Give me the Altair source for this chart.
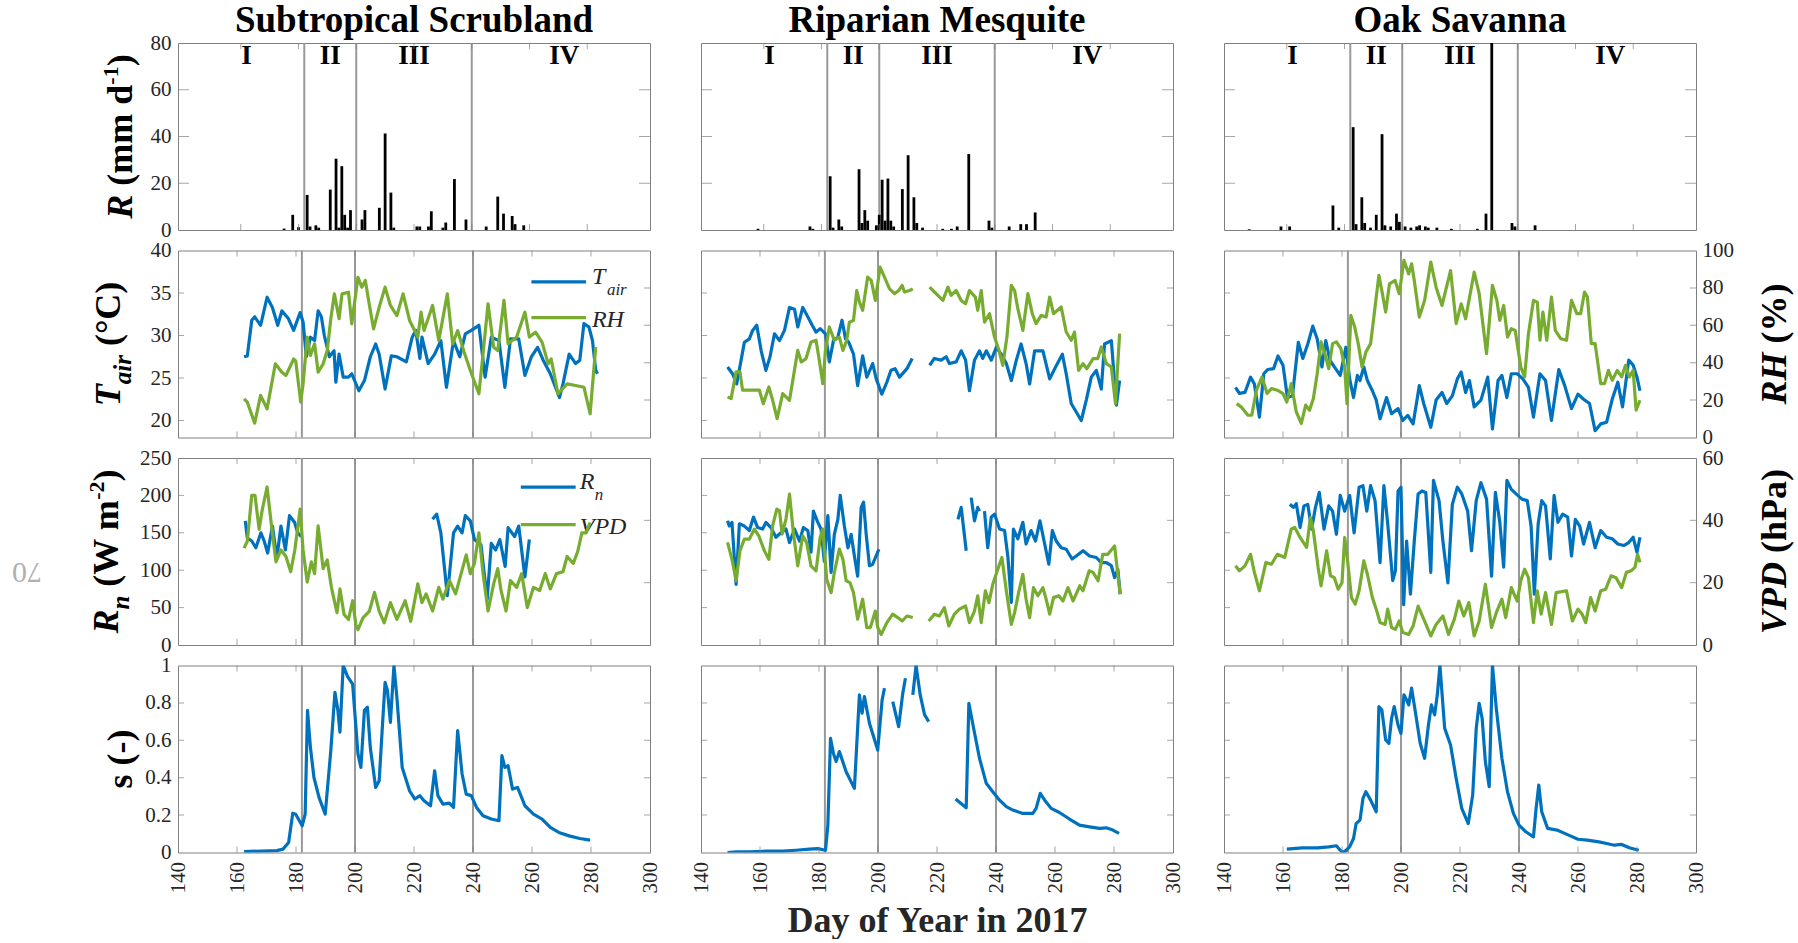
import altair as alt
import pandas as pd

FONT = "Liberation Serif"
BLUE = "#0072BD"
GREEN = "#77AC30"
FRAME = "#808080"
SEP = "#999999"
TXT = "#262626"
W, H = 472, 187

site_titles = ["Subtropical Scrubland", "Riparian Mesquite", "Oak Savanna"]
x_tick_values = [140, 160, 180, 200, 220, 240, 260, 280, 300]
period_bounds = [182, 200, 240]
period_labels = ["I", "II", "III", "IV"]
period_label_days = [162, 191, 220, 272]

rain_ticks = [0, 20, 40, 60, 80]
tair_ticks = [20, 25, 30, 35, 40]
rh_ticks = [0, 20, 40, 60, 80, 100]
rn_ticks = [0, 50, 100, 150, 200, 250]
vpd_ticks = [0, 20, 40, 60]
s_ticks = [0, 0.2, 0.4, 0.6, 0.8, 1]

# ---------------- Subtropical Scrubland ----------------
rain_ss_day = [175, 178, 180, 183, 184, 186, 187, 191, 193, 194, 195, 196, 197, 198, 202, 203, 208, 210, 212, 213,
               221, 222, 225, 226, 230, 231, 234, 238, 245, 249, 251, 254, 255, 258]
rain_ss = [0.6, 6.5, 1.2, 15, 1.5, 2, 1, 17.3, 30.5, 1, 27.3, 6.5, 1, 8.5, 4.5, 8.5, 9.5, 41.3, 16, 1,
           1.5, 1.5, 1.5, 8, 1, 3.2, 21.8, 4.5, 1.5, 14.3, 7, 6, 2.5, 2]

tair_ss_day = [162.4, 163.5, 165, 166, 168, 170.2, 172, 173.8, 175.2, 177.4, 179.2, 181.4, 182.4, 183.5, 184.9, 186.3,
               187.5, 188.6, 189.6, 191.3, 192.9, 193.5, 194.6, 196, 197.8, 198.9, 201.3, 203.2, 205.2, 207, 208.2,
               210.2, 212.3, 214.2, 217.4, 219.4, 220.6, 222, 222.7, 224.8, 227, 229.1, 231, 233.4, 235.5, 237.4,
               239.4, 242, 244.1, 246.2, 248.8, 250.8, 252.7, 255.5, 257.6, 259.8, 261.9, 263.8, 266.2, 269.3, 270.5,
               272.6, 274.8, 276.2, 277.6, 279.3, 280.5, 281.6, 282.2]
tair_ss = [27.5, 27.6, 31.8, 32.2, 31.2, 34.5, 33.3, 31.2, 32.9, 32, 30.6, 32.7, 31.6, 27.5, 29.8, 29.4, 32.9, 32.2,
           30, 27.5, 28.2, 24.5, 27.8, 25.1, 25.1, 25.5, 23.5, 24.7, 27.5, 29, 27.8, 23.7, 27.6, 27.5, 26.9, 29.8,
           30.6, 27.3, 29.8, 26.7, 27.8, 29.4, 23.9, 29.4, 27.5, 30.2, 30.6, 31.2, 25.1, 29.8, 29.4, 23.9, 29.6,
           29.6, 25.3, 27.5, 28.6, 27.1, 25.5, 22.7, 24.3, 27.8, 26.7, 27.1, 31.4, 31, 29.4, 25.9, 25.5]

rh_ss_day = [162.4, 163.5, 166, 168, 170.2, 173, 175.2, 176.6, 179.2, 179.9, 181.6, 182.4, 183.8, 184.9, 186.3, 187.5,
             189.2, 190.6, 191.8, 193, 194.6, 195.6, 197.8, 198.9, 201, 202.3, 203.5, 204.9, 206.3, 208.2, 210.2, 212,
             214.2, 216.3, 218.5, 221.3, 222.4, 223.4, 226.3, 228.4, 231.3, 233.1, 234.8, 237, 239.1, 242, 243.4,
             245.1, 247, 248.4, 250.5, 251.9, 254.8, 257.6, 259.1, 261.2, 263.4, 265.5, 266.5, 268.8, 271.9, 274.8,
             277.6, 279.7, 281.6]
rh_ss = [20.7, 18.9, 7.7, 22.5, 15.3, 39.4, 34.9, 33.2, 42, 41, 18.9, 28.7, 53.7, 43.9, 50.1, 34.9, 39.4, 46.5, 63.5,
         76.8, 63.5, 76.8, 77.7, 60.8, 85.7, 80.4, 84, 70.6, 58.1, 69.7, 80.4, 70.6, 65.2, 76.8, 62.6, 53.7, 67, 57.2,
         70.6, 51.9, 76.8, 50.1, 57.2, 45.6, 35.8, 23.4, 44.7, 71.5, 48.3, 46.5, 73.3, 50.1, 53.7, 67, 53.7, 56.3, 51,
         39.4, 42, 23.4, 28.7, 27.8, 26.9, 12.7, 48.3]

rn_ss_day = [162.8, 163.5, 165, 166.4, 168.1, 169.2, 170.4, 172, 173.5, 174.9, 176.4, 177.8, 179.5, 180.6, 181.8, 200,
             226.3, 227.7, 229.1, 231.3, 233.4, 234.8, 236.3, 237.4, 239.1, 240.5, 242.7, 244.8, 246.2, 247.7, 249.1,
             250.9, 251.9, 254.1, 255.5, 257.6, 259.1]
rn_ss = [166, 143, 139, 130, 150, 139, 123, 159, 116, 159, 127, 173, 164, 150, 145, None,
         168, 175, 150, 66, 150, 159, 150, 173, 166, 141, 134, 61, 136, 127, 141, 105, 157, 145, 159, 91, 141]

vpd_ss_day = [162.4, 163.5, 165, 166.1, 167.5, 168.5, 170.2, 171.7, 173.2, 174.9, 176.6, 178.2, 179.6, 181.4, 182.4,
              183.8, 185.2, 186.3, 187.5, 189.2, 190.6, 192, 193.9, 194.9, 196.3, 197.8, 199.2, 200.3, 201, 202.7,
              204.9, 206.6, 208.2, 209.9, 212, 214.2, 217, 218.9, 221.3, 222.7, 224.1, 226.3, 228.4, 229.8, 232,
              234.1, 236.3, 237.7, 239.1, 240.5, 242, 243.4, 245.1, 247, 248.4, 249.5, 251.2, 252.7, 254.8, 256.5,
              258.4, 260.5, 262.6, 264.5, 266.2, 268.3, 270.5, 271.9, 274, 275.5, 276.9, 278.3, 279.7]
vpd_ss = [31.1, 33.3, 48, 48, 37.1, 43.1, 50.7, 38.2, 26.7, 30.5, 28.4, 23.5, 30.5, 43.6, 30.5, 20.2, 26.7, 22.9, 38.2,
          24.5, 27.3, 18.5, 10.4, 18, 9.8, 8.2, 14.2, 6.5, 4.9, 8.7, 10.9, 16.9, 10.9, 7.1, 13.6, 8.2, 14.2, 7.6, 19.6,
          13.6, 16.4, 10.9, 18.5, 14.7, 20.7, 16.4, 24, 28.9, 22.9, 26.2, 36, 22.9, 10.9, 19.6, 24.5, 17.5, 10.9, 20.7,
          18.5, 22.9, 12, 18.5, 17.5, 22.9, 18, 22.9, 23.5, 28.4, 26.2, 30, 36, 36, 39.3]

s_ss_day = [162.4, 173.5, 175.6, 177.5, 178.9, 179.9, 182.1, 183.1, 183.9, 184.9, 186.1, 187.8, 189.9, 191.8, 193.2,
            194.2, 194.9, 196, 197.5, 199.2, 201, 202, 203.2, 204.2, 205.2, 207, 208.2, 209.2, 210.2, 211, 212, 213.2,
            214.2, 216, 218.5, 220.3, 222, 223.4, 225.6, 227, 228.1, 229.8, 232, 233.4, 234.8, 236.3, 237.7, 239.4,
            241.2, 243.4, 246.2, 248.8, 249.8, 250.8, 251.9, 253.4, 255.1, 257.6, 260.5, 263.4, 266.2, 269.1, 272.6,
            276.2, 279.7]
s_ss = [0.005, 0.01, 0.018, 0.054, 0.21, 0.205, 0.143, 0.205, 0.76, 0.56, 0.40, 0.295, 0.205, 0.545, 0.857, 0.76,
        0.643, 1.0, 0.94, 0.90, 0.527, 0.455, 0.76, 0.777, 0.56, 0.348, 0.384, 0.652, 0.91, 0.866, 0.696, 1.0, 0.83,
        0.455, 0.33, 0.286, 0.304, 0.277, 0.25, 0.437, 0.304, 0.259, 0.264, 0.241, 0.652, 0.42, 0.312, 0.304, 0.241,
        0.196, 0.179, 0.17, 0.518, 0.455, 0.464, 0.339, 0.348, 0.25, 0.205, 0.179, 0.134, 0.107, 0.089, 0.075, 0.066]

# ---------------- Riparian Mesquite ----------------
rain_rm_day = [158, 176, 177, 183, 184, 186, 187, 193, 194, 195, 196, 199, 200, 201, 202, 203, 204, 205, 208, 210,
               212, 213, 215, 222, 225, 227, 231, 238, 239, 245, 249, 251, 254]
rain_rm = [0.5, 1.5, 0.5, 23, 1, 4.5, 1.5, 26, 3, 8.5, 4, 2, 6.5, 21.5, 4, 22, 4, 1.5, 17.5, 32,
           14, 3, 1, 0.5, 0.5, 1.5, 32.5, 4, 1, 1.5, 2.5, 2.5, 7.5]

tair_rm_day = [149, 150.7, 152.1, 153.6, 154.7, 156.4, 157.5, 158.9, 160.4, 162, 163.4, 164.9, 166.6, 168.3, 170,
               171.7, 172.8, 174.5, 176.2, 177.7, 179, 180.4, 182.2, 183.5, 184.9, 186.4, 187.8, 189, 190.1, 191.7,
               193.1, 194.8, 196.2, 198.2, 199.4, 201.3, 203, 204.4, 205.8, 207.3, 209.8, 211.6, 214,
               217.5, 219.1, 221.4, 223.1, 224.2, 226.5, 228.2, 229.7, 231, 232.7, 234.4, 235.5, 236.7, 238.4, 240.1,
               241.8, 243.5, 245.2, 246.9, 248.5, 250.2, 251.4, 253.1, 255.9, 258.2, 260.2, 262.5, 263.8, 265.5,
               267.2, 268.9, 270.6, 272.3, 274, 275.7, 276.8, 279.1, 280.8, 281.9]
tair_rm = [26.3, 25.5, 24.3, 27.1, 29.2, 29.6, 30.6, 31.2, 28.2, 25.9, 27.5, 30.2, 29.4, 30.6, 33.3, 33.1, 31, 33.3,
           32.2, 31.2, 30.4, 30.8, 30.2, 26.9, 29.4, 29.8, 31.8, 29.6, 29.2, 27.8, 24.1, 27.6, 25.1, 26.7, 24.9, 23.1,
           24.5, 25.9, 26.1, 25.1, 26.1, 27.3, None,
           26.5, 27.3, 27.1, 27.5, 26.7, 26.9, 28.2, 27.1, 23.5, 27.1, 28.2, 27.3, 28.2, 27.1, 28.6, 27.8, 26.7, 24.7,
           27.1, 29, 26.7, 24.3, 28.2, 28.2, 24.9, 26.3, 27.8, 25.5, 22, 21, 20, 22.4, 25.1, 25.9, 23.7, 29, 29.4,
           21.8, 24.7]

rh_rm_day = [149, 150.2, 151.9, 153.2, 154.1, 156.4, 159.8, 161.1, 163, 164.3, 165.8, 167.7, 170, 172.8, 174, 175.6,
             177.3, 179, 180.1, 181.3, 182.2, 183.5, 185.2, 186.9, 188.1, 189.4, 190.3, 191.7, 192.8, 193.7, 194.8,
             196.5, 197.7, 199.1, 200.7, 202.2, 203.9, 205.6, 207, 208.2, 209, 210.7, 211.8, 214,
             217.5, 219.7, 222, 223.7, 224.8, 226.5, 228.2, 229.7, 231, 233, 233.8, 235, 236.1, 237.8, 239.5, 241,
             242.3, 243.7, 245.2, 246.3, 247.4, 249.1, 250.8, 252.3, 253.6, 255.3, 257, 258.2, 259.5, 262.1, 263.8,
             265.5, 266.6, 268, 269.5, 270.8, 272.9, 274.5, 275.7, 277.4, 279.1, 280.5, 281.9]
rh_rm = [21.7, 20.8, 35.1, 35.1, 25.3, 25.3, 25.3, 18.1, 27, 19.9, 10.1, 23.5, 19.9, 46.6, 40.4, 42.2, 51.1, 52, 41.3,
         28.8, 46.6, 59.1, 52, 53.7, 46.6, 52, 61.7, 62.6, 78.6, 72.4, 68, 85.8, 84, 73.3, 91.1, 85.8, 79.5, 76.9,
         78.6, 81.3, 77.8, 78.6, 79.5, None,
         80.4, 76.9, 73.3, 80.4, 76, 78.6, 73.3, 71.5, 78.6, 75.1, 68, 78.6, 61.7, 66.2, 53.7, 46.6, 38.6, 53.7, 81.3,
         78.6, 68.9, 57.3, 76.9, 66.2, 60.9, 65.3, 64.4, 75.1, 66.2, 69.8, 56.4, 52, 56.4, 35.9, 39.5, 36.8, 42.2,
         42.2, 48.4, 39.5, 37.7, 18.1, 55.5]

rn_rm_day = [149, 149.6, 150.5, 151.9, 153, 154.7, 156.4, 157.8, 159.2, 160.9, 162, 163.7, 165.4, 167.1, 168.8, 170,
             171.7, 173.4, 174.7, 176.2, 177.3, 178.1, 179.6, 180.7, 181.8, 183, 184.1, 185.2, 186.4, 187.2, 188.6,
             189.8, 190.9, 192, 193.1, 194.3, 195.1, 196, 197.1, 198.2, 200.3, 214,
             227.1, 228.2, 229.9, 230.8, 231.6, 232.7, 233.8, 234.4, 235.3,
             236.1, 237.2, 238.4, 239.5, 241.2, 242.9, 244, 245.2, 245.9, 247.4, 249.1, 250.2, 251.9, 253.4, 254.9,
             256.5, 257.9, 259.1, 260.4, 262.1, 263.8, 265.8, 267.2, 269.5, 271.7, 274, 275.7, 277.4, 279.1, 280.2,
             281.3, 282.1]
rn_rm = [166, 159, 164, 81, 162, 159, 153, 171, 157, 155, 164, 157, 144, 150, 155, 137, 155, 139, 157, 153, 124, 179,
         164, 155, 112, 173, 97, 148, 168, 200, 159, 130, 148, 119, 92, 184, 191, 148, 106, 108, 128, None,
         168, 184, 126, None, 197, 166, 184, 179, None,
         179, 130, 171, 175, 155, 153, 119, 57, 155, 142, 164, 135, 153, 139, 166, 135, 108, 153, 139, 130, 128, 115,
         119, 126, 119, 117, 110, 110, 106, 90, 101, 68]

vpd_rm_day = [149, 150.5, 151.9, 153.2, 154.7, 156.4, 158.1, 159.6, 161.5, 163, 164.3, 165.7, 166.6, 167.5, 168.8,
              170, 171.3, 172.8, 174.5, 175.8, 177.3, 179, 180.4, 181.3, 182.6, 184.1, 185.2, 186.9, 188.1, 189.2,
              190.5, 191.7, 193.1, 194.8, 196.2, 197.4, 199.1, 199.9, 201.1, 203, 205, 206.7, 208.2, 209.8, 211.8, 214,
              217.2, 219.1, 220.8, 222.5, 224, 225.9, 227.6, 229.7, 231, 232.7, 233.8, 235, 236.4, 237.6, 238.9, 240.6,
              242, 243.5, 245.2, 246.3, 247.8, 249.1, 250.2, 251.4, 252.7, 254.2, 255.9, 257, 258.2, 259.5, 261.3,
              262.7, 264.4, 266.1, 268.4, 269.5, 271.6, 272.9, 274.6, 276.2, 277.9, 280.2, 281.3, 282.1]
vpd_rm = [32.9, 27.5, 20.6, 30.2, 34, 34, 37.2, 35, 30.2, 27.5, 38.3, 43.6, 43.1, 35.6, 40.4, 48.4, 36.1, 25.4, 35,
          32.9, 25.4, 23.8, 34.5, 37.2, 21.1, 16.8, 23.3, 30.8, 27.5, 20.6, 20, 16.8, 8.3, 14.7, 5.6, 5.6, 10.9, 5.6,
          3.4, 7.2, 9.9, 8.8, 7.7, 9.3, 8.8, None,
          7.7, 9.9, 9.3, 12, 6.1, 9.9, 11.5, 12.5, 7.2, 10.9, 15.8, 7.2, 17.4, 13.6, 19.5, 24.3, 28.1, 17.4, 6.6, 10.4,
          17.4, 22.7, 14.7, 8.8, 18.4, 15.8, 18.4, 14.7, 9.9, 15.2, 15.8, 14.1, 18.4, 14.1, 19, 17.4, 23.8, 23.3, 20.6,
          29.1, 29.1, 31.8, 22.7, 16.3]

s_rm_day = [149, 151.9, 156.4, 162, 167.7, 172.2, 176.7, 179.6, 182.2, 183, 183.9, 184.9, 185.8, 186.9, 189.2, 192,
            193.7, 194.6, 195.4, 197.1, 199.9, 201.4, 202.2, 203.5, 205, 207, 208.4, 209.3, 210.5,
            211.8, 212.9, 214.3, 215.8, 217.2, 222,
            226.3, 229.9, 230.8, 232.2, 234.4, 236.7, 238.9, 241.2, 243.5, 245.7, 249.1, 252.5, 253.6, 255, 256.5,
            258.7, 261.5, 264.9, 268.3, 271.7, 275.1, 277.4, 279.6, 281.7]
s_rm = [0, 0.004, 0.004, 0.007, 0.007, 0.012, 0.018, 0.021, 0.012, 0.146, 0.61, 0.53, 0.486, 0.54, 0.432, 0.343,
        0.843, 0.745, 0.834, 0.691, 0.548, 0.816, 0.879, None, 0.807, 0.673, 0.852, 0.932, None,
        0.843, 1.0, 0.843, 0.736, 0.7, None,
        0.286, 0.239, 0.798, 0.682, 0.504, 0.37, 0.325, 0.28, 0.245, 0.227, 0.209, 0.209, 0.236, 0.316, 0.28, 0.236,
        0.214, 0.179, 0.146, 0.137, 0.129, 0.132, 0.12, 0.102]

# ---------------- Oak Savanna ----------------
rain_os_day = [147, 158, 161, 176, 178, 183, 184, 186, 187, 189, 191, 193, 194, 196, 198, 199, 201, 203, 205, 206, 208,
               209, 212, 217, 226, 229, 231, 238, 239, 246]
rain_os = [0.3, 1.5, 1.5, 10.5, 1, 44, 2.5, 14, 3, 1, 6.5, 41, 2, 1.5, 7, 3.5, 1.5, 1, 1.5, 2, 1.5,
           1, 1, 0.5, 0.5, 7, 80, 3, 1.5, 2]

tair_os_day = [143.9, 145.2, 147.1, 149, 150.3, 152, 153.5, 154.8, 156.8, 158.3, 160, 161.5, 163.2, 165.2, 166.7,
               168.4, 170.1, 171.6, 173.2, 174.5, 175.9, 177.4, 179.4, 181.3, 182.6, 183.9, 185.2, 186.1, 187.4, 188.6,
               190.3, 191.6, 192.9, 195.1, 196.8, 199, 200.6, 202.3, 204.1, 206.2, 207.7, 210.1, 211.9, 213.9, 215.5,
               217.4, 219.1, 220.4, 221.9, 223.2, 224.8, 227.1, 229.4, 231, 232.9, 234.2, 235.9, 237.4, 239.4, 241.3,
               243.2, 244.9, 247.1, 249, 251, 253.5, 255.5, 257.8, 260, 261.9, 263.9, 265.8, 267.7, 269.7, 271.6,
               273.5, 275.1, 277.2, 278.7, 280, 281]
tair_os = [23.9, 23.2, 23.3, 25.1, 24.3, 20.4, 25.5, 26, 26.1, 27.6, 26.5, 22.7, 22.9, 29.2, 27.3, 29, 31.1, 29.6, 26.3,
           29.4, 27.1, 26.3, 25.3, 28.6, 24.9, 22.7, 25.3, 24.7, 26.3, 24.7, 23.5, 22.4, 20.2, 22.7, 20.8, 21.4, 20,
           20.6, 19.6, 24.1, 22, 19.2, 22.4, 23.3, 22, 22.9, 24.9, 25.7, 23.3, 24.7, 21.6, 22.4, 25.1, 19, 24.7, 25.3,
           22.7, 25.5, 25.5, 24.9, 23.9, 20.4, 25.5, 24.7, 20, 26, 24.1, 21.4, 23.1, 22.5, 22, 18.8, 19.6, 19.8, 22.5,
           24.5, 21.6, 27.1, 26.5, 25.1, 23.5]

rh_os_day = [144.3, 145.8, 148.1, 149.4, 151, 152.9, 154.6, 156.1, 158.1, 160, 161.3, 162.8, 164.5, 166.2, 167.7, 169,
             170.3, 171.6, 172.9, 174.2, 175.5, 176.8, 178.1, 179.6, 180.9, 181.7, 183, 184.3, 185.5, 186.8, 188.1,
             189.7, 191, 192.5, 193.5, 194.8, 196.1, 198, 199.4, 201, 202.6, 203.6, 204.5, 206.2, 208, 210.1, 211.9,
             213.9, 216.8, 218.7, 220.4, 221.9, 224.8, 226.5, 229, 231, 232.5, 233.5, 234.8, 236.1, 237.4, 238.7,
             240.6, 241.9, 243.2, 244.9, 246.2, 247.1, 248.1, 249.4, 251, 252.3, 254.2, 256.1, 257.8, 259.6, 260.9,
             262.2, 263.2, 264.5, 265.8, 267.7, 269, 270.3, 271.6, 273.3, 274.8, 276.1, 277.4, 278.7, 279.7, 281]
rh_os = [18.1, 16.4, 11.9, 11.9, 25.3, 32.4, 23.5, 26.2, 25.3, 23.5, 19, 28.8, 13.7, 7.5, 17.3, 14.6, 20.8, 34.2, 51.1,
         44.8, 36.8, 50.2, 51.1, 47.5, 37.7, 18.1, 65.3, 59.1, 50.2, 37.7, 45.7, 50.2, 67.1, 86.7, 78.6, 67.1, 82.2, 84,
         76.9, 94.7, 87.5, 92.9, 84, 64.4, 73.3, 93.8, 80.4, 70.6, 89.3, 60.9, 71.5, 63.5, 88.4, 76.9, 44.8, 81.3, 73.3,
         62.6, 70.6, 53.7, 58.2, 57.3, 37.7, 32.4, 55.5, 73.3, 72.4, 52, 67.1, 52, 75.1, 57.3, 52.8, 52, 73.3, 66.2,
         66.2, 77.8, 75.1, 50.2, 50.2, 28.8, 28.8, 35.9, 30.6, 35.9, 32.4, 38.6, 32.4, 35.9, 14.6, 19.9]

rn_os_day = [162.3, 163.6, 164.5, 165.8, 167.1, 168.4, 169.7, 171, 172.3, 173.9, 175.5, 176.8, 178.1, 179.4, 180.9,
             182.6, 184.1, 185.8, 187.1, 188.4, 189.7, 191.2, 192.9, 194.2, 195.5, 197.2, 198.1, 199, 200, 200.9, 201.9,
             203.2, 204.5, 205.8, 207.1, 208.4, 210.1, 211, 212.9, 214.2, 215.9, 217.4, 219.1, 220.6, 222.6, 223.9,
             225.5, 227.1, 229, 230.7, 232, 233.5, 234.8, 235.9, 237.4, 239, 241, 242.8, 244.1, 245.2, 246.5, 247.7,
             249, 250.6, 251.9, 253.2, 254.8, 256.5, 257.8, 259.1, 260.6, 261.9, 263.9, 265.8, 267.7, 269.7, 271.6,
             273.5, 275.5, 277.2, 278.7, 280, 281]
rn_os = [188, 184, 189, 157, 186, 188, 155, 184, 204, 155, 186, 179, 148, 200, 179, 200, 150, 211, 213, 179, 213, 193,
         110, 213, 162, 86, 99, 206, 211, 54, 139, 68, 139, 202, 206, 204, 97, 220, 193, 139, 83, 188, 211, 202, 179,
         126, 193, 217, 195, 92, 204, 164, 104, 220, 208, 202, 195, 193, 159, 68, 162, 193, 186, 115, 200, 164, 175,
         171, 119, 168, 159, 135, 164, 130, 153, 144, 142, 135, 133, 137, 144, 124, 144]

vpd_os_day = [143.9, 145.2, 147.1, 149, 150.3, 152, 154.2, 156.1, 158.1, 160.6, 162.8, 164, 165.8, 168, 169.3, 170.3,
              171.9, 172.9, 174.8, 176.1, 177.4, 178.7, 180, 180.9, 181.9, 183.2, 184.5, 185.8, 187.4, 188.6, 190.3,
              191.6, 192.9, 194.6, 195.5, 196.8, 198.1, 199.4, 200.6, 202.6, 204.1, 205.8, 207.5, 210.1, 211.9, 214.2,
              216.1, 218.1, 219.6, 221.3, 223, 224.8, 226.5, 228.6, 230.7, 232.5, 234.2, 235.5, 237.4, 239.4, 240.6,
              241.9, 243.2, 244.9, 246.2, 247.5, 249, 251, 252.6, 256.1, 258.1, 260, 261.4, 262.6, 264.3, 265.8, 267.7,
              269.4, 271.2, 272.9, 274.8, 276.4, 278, 279.3, 280.2, 281]
vpd_os = [25.4, 23.8, 25.4, 29.1, 23.3, 17.4, 26.5, 25.9, 29.1, 28.1, 37.2, 37.7, 34.5, 31.3, 40.9, 36.6, 24.9, 19,
          30.2, 22.2, 21.6, 17.9, 20, 34.5, 27, 15.2, 13.1, 17.4, 27, 22.7, 15.2, 11.5, 7.2, 6.6, 11.5, 5.6, 5, 7.7, 4,
          3.4, 6.1, 12.5, 8.8, 2.9, 6.6, 9.3, 3.4, 8.3, 14.1, 9.3, 13.6, 2.9, 7.7, 19.5, 5.6, 10.9, 14.7, 8.8, 18.4,
          14.1, 20.6, 24.3, 21.6, 7.2, 17.4, 9.9, 16.8, 6.6, 16.8, 17.4, 7.7, 11.5, 9.9, 7.2, 15.2, 10.9, 17.4, 17.9,
          22.2, 21.6, 18.4, 23.3, 23.8, 24.9, 29.1, 26.5]

s_os_day = [161.3, 166.5, 171.6, 175.5, 178.1, 179.4, 180.6, 182.6, 183.9, 184.8, 186.1, 187.1, 188.1, 189.7, 191.6,
            192.5, 193.5, 194.8, 195.9, 196.8, 197.7, 199, 200, 201, 201.9, 202.6, 203.6, 205.2, 206.5, 208, 209.3,
            210.3, 211.4, 212.3, 213.2, 214.8, 216.8, 218.7, 220.6, 222.8, 224.3, 225.5, 226.5, 227.5, 228.6, 229.9,
            231, 232.3, 234.2, 236.1, 238.1, 240, 242.3, 244.9, 245.8, 246.7, 247.7, 249.7, 252.9, 256.8, 260, 263.2,
            267.1, 269.7, 272.3, 274.8, 277.4, 280.6]
s_os = [0.018, 0.025, 0.025, 0.03, 0.036, 0.012, 0, 0.03, 0.075, 0.155, 0.173, 0.289, 0.325, 0.28, 0.218, 0.78, 0.763,
        0.602, 0.584, 0.718, 0.78, 0.682, 0.637, 0.843, 0.816, 0.789, 0.879, 0.718, 0.584, 0.504, 0.682, 0.789, 0.736,
        0.843, 1.0, 0.664, 0.575, 0.396, 0.236, 0.155, 0.307, 0.664, 0.798, 0.718, 0.486, 0.352, 1.0, 0.771, 0.504,
        0.325, 0.209, 0.146, 0.111, 0.084, 0.236, 0.361, 0.218, 0.129, 0.12, 0.093, 0.071, 0.066, 0.057, 0.048, 0.039,
        0.043, 0.025, 0.012]

SITE_DATA = [
    dict(rain=(rain_ss_day, rain_ss), tair=(tair_ss_day, tair_ss), rh=(rh_ss_day, rh_ss),
         rn=(rn_ss_day, rn_ss), vpd=(vpd_ss_day, vpd_ss), s=(s_ss_day, s_ss)),
    dict(rain=(rain_rm_day, rain_rm), tair=(tair_rm_day, tair_rm), rh=(rh_rm_day, rh_rm),
         rn=(rn_rm_day, rn_rm), vpd=(vpd_rm_day, vpd_rm), s=(s_rm_day, s_rm)),
    dict(rain=(rain_os_day, rain_os), tair=(tair_os_day, tair_os), rh=(rh_os_day, rh_os),
         rn=(rn_os_day, rn_os), vpd=(vpd_os_day, vpd_os), s=(s_os_day, s_os)),
]

# --------------- helpers ---------------
ONE = pd.DataFrame({"k": [0]})
XS = alt.Scale(domain=[140, 300], nice=False, zero=False)

TB = {" ": 250, "(": 333, ")": 333, "-": 333, "%": 1000, "°": 400, "a": 500, "d": 556, "h": 556, "i": 278,
      "m": 833, "n": 556, "r": 444, "s": 389, "C": 722, "D": 722, "H": 778, "P": 611, "R": 722, "T": 667,
      "V": 722, "W": 1000, "1": 500, "2": 500}
TBI = {"R": 667, "T": 611, "a": 500, "i": 278, "r": 389, "n": 556, "H": 778, "V": 667, "P": 611, "D": 722}


def text_width(t, size, italic):
    tab = TBI if italic else TB
    return sum(tab.get(ch, TB.get(ch, 500)) for ch in t) * size / 1000.0


def rich_title(segments, x_base, y_center):
    widths = [text_width(t, s, it) for t, s, it, sh in segments]
    y = y_center + sum(widths) / 2.0
    out = []
    for (t, s, it, sh), w in zip(segments, widths):
        core = t.lstrip(" ")
        lead = text_width(t[: len(t) - len(core)], s, it)
        kw = dict(text=core, angle=270, align="left", baseline="alphabetic", font=FONT, fontSize=s,
                  fontWeight="bold", color="#000000")
        if it:
            kw["fontStyle"] = "italic"
        out.append(alt.Chart(ONE).mark_text(**kw).encode(x=alt.value(x_base + sh), y=alt.value(y - lead)))
        y -= w
    return out


def make_df(days, vals):
    rows, seg = [], 0
    for d, v in zip(days, vals):
        if v is None:
            seg += 1
            continue
        rows.append({"day": d, "v": v, "seg": seg})
    return pd.DataFrame(rows)


def X(row, col):
    if row == 3:
        kw = dict(values=x_tick_values, labelAngle=270, labelAlign="right", labelBaseline="middle", labelPadding=9,
                  ticks=False, domain=False, grid=False, labelFont=FONT, labelFontSize=21, labelColor=TXT,
                  labelOverlap=False, labelFlush=False, format="~f")
        if col == 1:
            kw.update(title="Day of Year in 2017", titleFont=FONT, titleFontSize=36, titleFontWeight="bold",
                      titleColor=TXT, titlePadding=10)
        else:
            kw["title"] = None
        return alt.X("day:Q", scale=XS, axis=alt.Axis(**kw))
    return alt.X("day:Q", scale=XS, axis=None)


def Ymaker(domain, ticks, show, orient="left"):
    def f(field):
        sc = alt.Scale(domain=domain, nice=False, zero=False)
        if show:
            ax = alt.Axis(values=ticks, orient=orient, ticks=False, domain=False, grid=False, labelFont=FONT,
                          labelFontSize=21, labelColor=TXT, labelPadding=7 if orient == "left" else 6,
                          labelOverlap=False, labelFlush=False, format="~f", title=None)
        else:
            ax = None
        return alt.Y(f"{field}:Q", scale=sc, axis=ax)
    return f


def tick_marks(Xe, Yf, days, yvals, orient):
    df = pd.DataFrame({"day": days, "yv": yvals})
    return alt.Chart(df).mark_tick(orient=orient, size=12, thickness=1, color=FRAME, clip=True).encode(
        x=Xe, y=Yf("yv"))


def frame_ticks(Xe, Yf, domain, left_ticks, right_ticks):
    inner = x_tick_values[1:-1]
    out = [
        tick_marks(Xe, Yf, inner, [domain[0]] * len(inner), "vertical"),
        tick_marks(Xe, Yf, inner, [domain[1]] * len(inner), "vertical"),
    ]
    if left_ticks:
        out.append(tick_marks(Xe, Yf, [140] * len(left_ticks), left_ticks, "horizontal"))
    if right_ticks:
        out.append(tick_marks(Xe, Yf, [300] * len(right_ticks), right_ticks, "horizontal"))
    return out


def separators(Xe):
    df = pd.DataFrame({"day": period_bounds})
    return alt.Chart(df).mark_rule(color=SEP, strokeWidth=2).encode(x=Xe)


def series_line(Xe, Yf, days, vals, color):
    df = make_df(days, vals)
    return alt.Chart(df).mark_line(color=color, strokeWidth=3.2, clip=True, strokeJoin="round").encode(
        x=Xe, y=Yf("v"), detail="seg:N")


def legend_entry(Xe, Yf, x1, x2, y, color, label, sub, tx):
    ldf = pd.DataFrame({"day": [x1], "day2": [x2], "yv": [y]})
    tdf = pd.DataFrame({"day": [tx], "yv": [y]})
    out = [alt.Chart(ldf).mark_rule(color=color, strokeWidth=3.2).encode(x=Xe, x2="day2:Q", y=Yf("yv"))]
    dy_main = -5 if sub else 2
    out.append(alt.Chart(tdf).mark_text(text=label, align="left", baseline="middle", font=FONT, fontSize=24,
                                        fontStyle="italic", color=TXT, dy=dy_main).encode(x=Xe, y=Yf("yv")))
    if sub:
        out.append(alt.Chart(tdf).mark_text(text=sub, align="left", baseline="middle", font=FONT, fontSize=17,
                                            fontStyle="italic", color=TXT, dx=15, dy=8).encode(x=Xe, y=Yf("yv")))
    return out


def make_panel(row, col):
    d = SITE_DATA[col]
    Xe = X(row, col)
    left = col == 0
    right = col == 2
    sec = []
    if row == 0:
        dom = [0, 80]
        Yp = Ymaker(dom, rain_ticks, left)
        bdf = make_df(*d["rain"])
        pdf = pd.DataFrame({"day": period_label_days, "label": period_labels, "yv": [80] * 4})
        prim = [separators(Xe),
                alt.Chart(bdf).mark_bar(color="black", size=2.8, orient="vertical", clip=True).encode(
                    x=Xe, y=Yp("v")),
                alt.Chart(pdf).mark_text(baseline="top", font=FONT, fontSize=27, fontWeight="bold",
                                         color="#000000").encode(x=Xe, y=Yp("yv"), text="label:N"),
                alt.Chart(ONE).mark_text(text=site_titles[col], font=FONT, fontSize=37, fontWeight="bold",
                                         color="#000000", align="center", baseline="alphabetic").encode(
                    x=alt.value(W / 2), y=alt.value(-11))]
        prim += frame_ticks(Xe, Yp, dom, rain_ticks[1:-1], rain_ticks[1:-1])
        if left:
            prim += rich_title([("R", 36, True, 0), (" (mm d", 36, False, 0), ("-1", 22, False, -14),
                                (")", 36, False, 0)], -46, H / 2)
    elif row == 1:
        dom = [18, 40]
        Yp = Ymaker(dom, tair_ticks, left)
        Ys = Ymaker([0, 100], rh_ticks, right, "right")
        prim = [separators(Xe), series_line(Xe, Yp, *d["tair"], BLUE)]
        prim += frame_ticks(Xe, Yp, dom, tair_ticks[:-1], None)
        if left:
            prim += legend_entry(Xe, Yp, 259.8, 278.3, 36.3, BLUE, "T", "air", 280.3)
            prim += legend_entry(Xe, Yp, 259.8, 278.3, 32.1, GREEN, "RH", None, 280.3)
            prim += rich_title([("T", 36, True, 0), ("air", 25, True, 11), (" (°C)", 36, False, 0)], -58, H / 2)
        sec = [series_line(Xe, Ys, *d["rh"], GREEN),
               tick_marks(Xe, Ys, [300] * 4, rh_ticks[1:-1], "horizontal")]
        if right:
            sec += rich_title([("RH", 36, True, 0), (" (%)", 36, False, 0)], W + 90, H / 2)
    elif row == 2:
        dom = [0, 250]
        Yp = Ymaker(dom, rn_ticks, left)
        Ys = Ymaker([0, 60], vpd_ticks, right, "right")
        prim = [separators(Xe), series_line(Xe, Yp, *d["rn"], BLUE)]
        prim += frame_ticks(Xe, Yp, dom, rn_ticks[1:-1], None)
        if left:
            prim += legend_entry(Xe, Yp, 256.2, 274.8, 211, BLUE, "R", "n", 276.2)
            prim += legend_entry(Xe, Yp, 256.2, 274.8, 161, GREEN, "VPD", None, 276.2)
            prim += rich_title([("R", 36, True, 0), ("n", 25, True, 11), (" (W m", 36, False, 0),
                                ("-2", 22, False, -14), (")", 36, False, 0)], -60, H / 2)
            prim.append(alt.Chart(ONE).mark_text(text="70", angle=180, font=FONT, fontSize=30, color="#b0b0b0",
                                                 align="center", baseline="middle").encode(
                x=alt.value(-151), y=alt.value(114)))
        sec = [series_line(Xe, Ys, *d["vpd"], GREEN),
               tick_marks(Xe, Ys, [300] * 2, vpd_ticks[1:-1], "horizontal")]
        if right:
            sec += rich_title([("VPD", 36, True, 0), (" (hPa)", 36, False, 0)], W + 90, H / 2)
    else:
        dom = [0, 1]
        Yp = Ymaker(dom, s_ticks, left)
        prim = [separators(Xe), series_line(Xe, Yp, *d["s"], BLUE)]
        prim += frame_ticks(Xe, Yp, dom, s_ticks[1:-1], s_ticks[1:-1])
        if left:
            prim += rich_title([("s (-)", 36, False, 0)], -46, H / 2)

    p = alt.layer(*prim)
    if sec:
        chart = alt.layer(p, alt.layer(*sec)).resolve_scale(y="independent")
    else:
        chart = p
    return chart.properties(width=W, height=H)


columns = [alt.vconcat(*[make_panel(r, c) for r in range(4)], spacing=20.5, bounds="flush") for c in range(3)]

chart = alt.hconcat(*columns, spacing=28).properties(
    padding={"left": 11, "top": 1, "right": 0, "bottom": 0},
    background="white",
).configure_view(stroke=FRAME, strokeWidth=1)

chart.save("out.html", embed_options={"renderer": "svg", "actions": False})
